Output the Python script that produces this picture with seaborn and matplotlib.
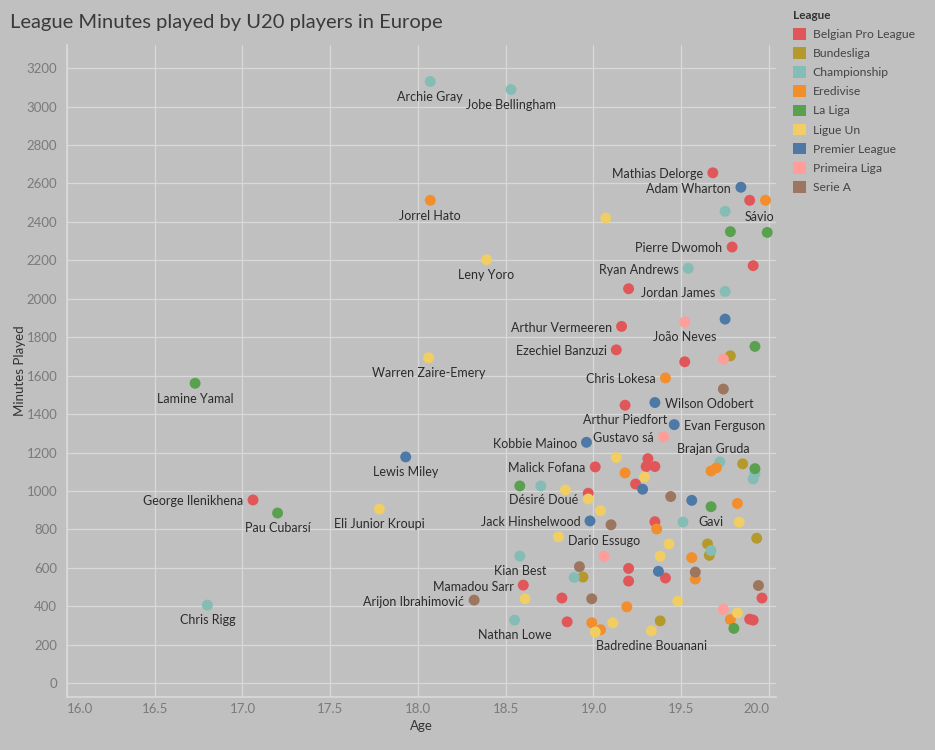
import matplotlib
matplotlib.use("Agg")
import matplotlib.pyplot as plt
import seaborn as sns
import pandas as pd
from matplotlib.patches import Patch

# ---------------- data ----------------
leagues = ["Belgian Pro League", "Bundesliga", "Championship", "Eredivise", "La Liga",
           "Ligue Un", "Premier League", "Primeira Liga", "Serie A"]

belgian_age = [19.68, 19.89, 19.79, 19.91, 19.20, 19.16, 19.13, 19.52, 19.18, 19.31, 19.30, 19.35, 19.01,
               19.24, 18.97, 19.35, 19.20, 19.20, 19.41, 18.60, 18.82, 18.85, 19.96, 19.89, 19.91, 17.06]
belgian_min = [2655, 2512, 2269, 2172, 2052, 1856, 1734, 1672, 1446, 1168, 1127, 1127, 1125,
               1036, 988, 840, 597, 531, 547, 510, 443, 319, 443, 333, 328, 953]
belgian_name = ["Mathias Delorge", "", "Pierre Dwomoh", "", "", "Arthur Vermeeren", "Ezechiel Banzuzi", "",
                "Arthur Piedfort", "", "", "", "Malick Fofana", "", "", "", "", "", "", "Mamadou Sarr",
                "", "", "", "", "", "George Ilenikhena"]

bundes_age = [19.78, 19.85, 19.93, 19.65, 19.66, 18.94, 19.38]
bundes_min = [1703, 1141, 754, 724, 665, 552, 324]
bundes_name = ["", "Brajan Gruda", "", "", "", "", ""]

champ_age = [18.07, 18.53, 19.75, 19.54, 19.75, 19.72, 19.92, 19.91, 18.70, 19.51, 19.67, 18.58, 18.89, 18.55, 16.80]
champ_min = [3130, 3088, 2455, 2158, 2038, 1151, 1091, 1062, 1026, 838, 690, 661, 550, 328, 406]
champ_name = ["Archie Gray", "Jobe Bellingham", "", "Ryan Andrews", "Jordan James", "", "", "", "", "",
              "", "Kian Best", "", "Nathan Lowe", "Chris Rigg"]

ered_age = [19.98, 18.07, 19.41, 19.18, 19.67, 19.70, 19.82, 19.36, 19.56, 19.58, 19.19, 18.99, 19.04, 19.78]
ered_min = [2512, 2512, 1588, 1094, 1104, 1120, 935, 802, 653, 542, 397, 314, 278, 331]
ered_name = ["", "Jorrel Hato", "Chris Lokesa", "", "", "", "", "", "", "", "", "", "", ""]

laliga_age = [19.99, 19.78, 19.92, 16.73, 19.92, 18.58, 19.67, 17.20, 19.80]
laliga_min = [2345, 2349, 1752, 1560, 1116, 1026, 918, 885, 285]
laliga_name = ["Sávio", "", "", "Lamine Yamal", "", "", "Gavi", "Pau Cubarsí", ""]

ligue_age = [19.07, 18.39, 18.06, 19.13, 19.29, 18.84, 18.97, 19.04, 19.83, 18.80, 19.43, 19.38, 19.48,
             18.61, 19.11, 19.01, 19.33, 19.82, 17.78]
ligue_min = [2420, 2203, 1693, 1174, 1072, 1005, 958, 897, 838, 762, 724, 661, 427,
             439, 314, 266, 272, 365, 906]
ligue_name = ["", "Leny Yoro", "Warren Zaire-Emery", "", "", "", "Désiré Doué", "", "", "", "", "", "",
              "", "", "", "Badredine Bouanani", "", "Eli Junior Kroupi"]

prem_age = [19.84, 19.75, 19.35, 19.46, 18.96, 17.93, 19.28, 19.56, 18.98, 19.37]
prem_min = [2580, 1894, 1460, 1345, 1253, 1177, 1009, 951, 844, 582]
prem_name = ["Adam Wharton", "", "Wilson Odobert", "Evan Ferguson", "Kobbie Mainoo", "Lewis Miley", "", "",
             "Jack Hinshelwood", ""]

prim_age = [19.52, 19.74, 19.40, 19.06, 19.74]
prim_min = [1879, 1686, 1281, 661, 384]
prim_name = ["João Neves", "", "Gustavo sá", "Dario Essugo", ""]

serie_age = [19.74, 19.44, 19.10, 18.92, 19.58, 19.94, 18.99, 18.32]
serie_min = [1530, 971, 824, 606, 578, 508, 439, 432]
serie_name = ["", "", "", "", "", "", "", "Arijon Ibrahimović"]

x_ticks = [16.0, 16.5, 17.0, 17.5, 18.0, 18.5, 19.0, 19.5, 20.0]
y_ticks = list(range(0, 3201, 200))

# ---------------- styles ----------------
palette = {
    "Belgian Pro League": "#E15759", "Bundesliga": "#B6992D", "Championship": "#86BCB6",
    "Eredivise": "#F28E2B", "La Liga": "#59A14F", "Ligue Un": "#F1CE63",
    "Premier League": "#4E79A7", "Primeira Liga": "#FF9D9A", "Serie A": "#9D7660",
}
label_side = {
    "Mathias Delorge": "left", "Adam Wharton": "left", "Sávio": "aboveleft", "Pierre Dwomoh": "left",
    "Ryan Andrews": "left", "Jordan James": "left", "Arthur Vermeeren": "left", "João Neves": "below",
    "Ezechiel Banzuzi": "left", "Chris Lokesa": "left", "Wilson Odobert": "right", "Arthur Piedfort": "below",
    "Evan Ferguson": "right", "Gustavo sá": "left", "Kobbie Mainoo": "left", "Brajan Gruda": "aboveleft",
    "Malick Fofana": "left", "Désiré Doué": "left", "Jack Hinshelwood": "left", "Gavi": "below",
    "Dario Essugo": "above", "Kian Best": "below", "Mamadou Sarr": "left", "Arijon Ibrahimović": "left",
    "Nathan Lowe": "below", "Badredine Bouanani": "below", "George Ilenikhena": "left",
}

frames = []
for lg, a, m, n in [
    ("Belgian Pro League", belgian_age, belgian_min, belgian_name),
    ("Bundesliga", bundes_age, bundes_min, bundes_name),
    ("Championship", champ_age, champ_min, champ_name),
    ("Eredivise", ered_age, ered_min, ered_name),
    ("La Liga", laliga_age, laliga_min, laliga_name),
    ("Ligue Un", ligue_age, ligue_min, ligue_name),
    ("Premier League", prem_age, prem_min, prem_name),
    ("Primeira Liga", prim_age, prim_min, prim_name),
    ("Serie A", serie_age, serie_min, serie_name),
]:
    frames.append(pd.DataFrame({"League": lg, "Age": a, "Minutes Played": m, "Player": n}))
df = pd.concat(frames, ignore_index=True)

BG = "#c0c0c0"
sns.set_theme(style="whitegrid")
plt.rcParams["font.family"] = ["Lato", "DejaVu Sans"]

W, H = 935, 750
fig = plt.figure(figsize=(9.35, 7.5), dpi=100, facecolor=BG)
left, right, top, bottom = 67, 776, 45, 697
ax = fig.add_axes([left / W, 1 - bottom / H, (right - left) / W, (bottom - top) / H])
ax.set_facecolor(BG)

sns.scatterplot(data=df, x="Age", y="Minutes Played", hue="League", hue_order=leagues,
                palette=palette, s=62, linewidth=0, alpha=1, legend=False, ax=ax, zorder=3)

ax.set_xlim(16.0, 20.04)
ax.set_ylim(-72, 3320)
ax.set_xticks(x_ticks)
ax.set_xticklabels([f"{t:.1f}" for t in x_ticks])
ax.set_yticks(y_ticks)
ax.grid(True, color="#d9d9d9", linewidth=0.9)
for sp in ["top", "right"]:
    ax.spines[sp].set_visible(False)
ax.spines["left"].set_color("#d9d9d9")
ax.spines["bottom"].set_color("#d9d9d9")
ax.tick_params(axis="both", colors="#7a7a7a", labelsize=9.5, length=0)
ax.tick_params(axis="y", pad=7)
ax.tick_params(axis="x", pad=4)
xl = ax.get_xticklabels()
xl[0].set_ha("left")
xl[-1].set_ha("right")
ax.set_xlabel("Age", color="#333333", fontsize=9.5)
ax.set_ylabel("Minutes Played", color="#333333", fontsize=9.5)
ax.xaxis.set_label_coords(0.5, -(720 - bottom) / (bottom - top))
ax.yaxis.set_label_coords(-(67 - 26) / (right - left), 0.5)

# point labels
offsets = {
    "left": dict(xytext=(-7, -1), ha="right", va="center"),
    "right": dict(xytext=(7, -1), ha="left", va="center"),
    "below": dict(xytext=(0, -11), ha="center", va="center"),
    "above": dict(xytext=(0, 11), ha="center", va="center"),
    "aboveleft": dict(xytext=(5, 11), ha="right", va="center"),
}
for _, r in df[df["Player"] != ""].iterrows():
    side = label_side.get(r["Player"], "below")
    o = offsets[side]
    ax.annotate(r["Player"], (r["Age"], r["Minutes Played"]), xytext=o["xytext"],
                textcoords="offset points", ha=o["ha"], va=o["va"],
                fontsize=9, color="#2b2b2b", zorder=4)

# title
fig.text(0.0107, 0.970, "League Minutes played by U20 players in Europe", fontsize=14.5,
         color="#3a3a3a", ha="left", va="center")

# legend
handles = [Patch(facecolor=palette[l], edgecolor="none", label=l) for l in leagues]
leg = fig.legend(handles=handles, title="League", loc="upper left",
                 bbox_to_anchor=(783 / W, 1.0), frameon=False, fontsize=8.7,
                 title_fontsize=8.5, handlelength=1.1, handleheight=1.1,
                 handletextpad=0.55, labelspacing=0.6, alignment="left",
                 borderpad=0.3)
leg.get_title().set_fontweight("bold")
leg.get_title().set_color("#333333")
for t in leg.get_texts():
    t.set_color("#444444")

fig.savefig("out.png", dpi=100, facecolor=BG)
